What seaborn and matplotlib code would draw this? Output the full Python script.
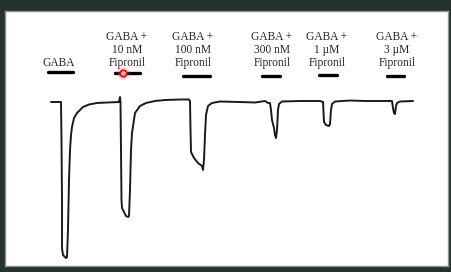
import matplotlib
matplotlib.use("Agg")
import matplotlib.pyplot as plt
import seaborn as sns
import pandas as pd

# ---- data (time in s, current in nA) ----
time_s = [0, 10, 10.5, 11, 11, 12, 15, 16, 17, 18, 19, 20, 21, 23, 26, 32, 38, 46, 56, 68,
          69, 69.5, 70, 70.5, 71, 73, 75, 77, 78, 79, 80, 81, 84, 89, 95, 104, 114, 129, 138,
          139, 139.5, 140, 143, 147, 151, 152, 153, 154, 155, 157, 161, 169, 189, 204, 214, 217, 219,
          220, 221, 223, 224, 225, 226, 227, 228, 231, 249, 269, 272,
          272.5, 273, 275, 278, 279, 280, 281, 284, 299, 314, 329, 341,
          342, 343, 344, 345, 346, 349, 362]
current_nA = [0, 0, -380, -980, -1460, -1530, -1560, -1550, -1280, -780, -480, -330, -250, -160, -110, -50, -25, -10, -5, 0,
              50, 0, -480, -980, -1060, -1100, -1140, -1150, -1140, -880, -480, -310, -110, -40, -10, 10, 20, 25, 25,
              10, -280, -500, -560, -610, -640, -680, -580, -330, -130, -40, -10, 5, 0, -5, 10, -10, -10,
              -80, -180, -260, -330, -360, -280, -80, -20, 5, 10, 10, 0,
              -100, -200, -230, -240, -220, -80, -20, 5, 15, 10, 10, 10,
              -60, -110, -120, -40, -10, 5, 10]

labels = ["GABA", "GABA +\n10 nM\nFipronil", "GABA +\n100 nM\nFipronil",
          "GABA +\n300 nM\nFipronil", "GABA +\n1 µM\nFipronil", "GABA +\n3 µM\nFipronil"]
app_start_s = [-3, 64, 132, 211, 268, 336]
app_end_s = [22, 89, 159, 229, 286, 353]
app_level_nA = [300, 290, 260, 260, 270, 260]
label_center_s = [8, 76, 142, 221, 276, 346]

df = pd.DataFrame({"time": time_s, "current": current_nA})

sns.set_style("white")
fig = plt.figure(figsize=(4.51, 2.72), dpi=100, facecolor="#26322d")
ax = fig.add_axes([5 / 451, 6 / 272, 443 / 451, 255 / 272])
ax.set_facecolor("white")

sns.lineplot(data=df, x="time", y="current", sort=False, estimator=None,
             color="#1a1a1a", linewidth=1.4, ax=ax)

for s, e, lv in zip(app_start_s, app_end_s, app_level_nA):
    ax.plot([s, e], [lv, lv], color="black", linewidth=2.4, solid_capstyle="round")

for i, (lab, cx) in enumerate(zip(labels, label_center_s)):
    if i == 0:
        ax.text(cx, 390, lab, ha="center", va="center", fontsize=8.3,
                family="Liberation Serif", color="#262626")
    else:
        ax.text(cx, 520, lab, ha="center", va="center", fontsize=8.3,
                family="Liberation Serif", color="#262626", linespacing=1.15)

# cursor highlight
ax.scatter([72], [290], s=90, color="#ff6060", alpha=0.25, linewidths=0, zorder=5)
ax.scatter([72], [290], s=22, facecolor="#ffb0b0", edgecolor="#e01010", linewidths=1.3, zorder=6)

ax.set_xlim(-46, 397)
ax.set_ylim(-1640, 910)
ax.set_xticks([])
ax.set_yticks([])
ax.set_xlabel("")
ax.set_ylabel("")
for sp in ax.spines.values():
    sp.set_color("#8a928e")
    sp.set_linewidth(1)

fig.savefig("out.png", dpi=100, facecolor=fig.get_facecolor())
